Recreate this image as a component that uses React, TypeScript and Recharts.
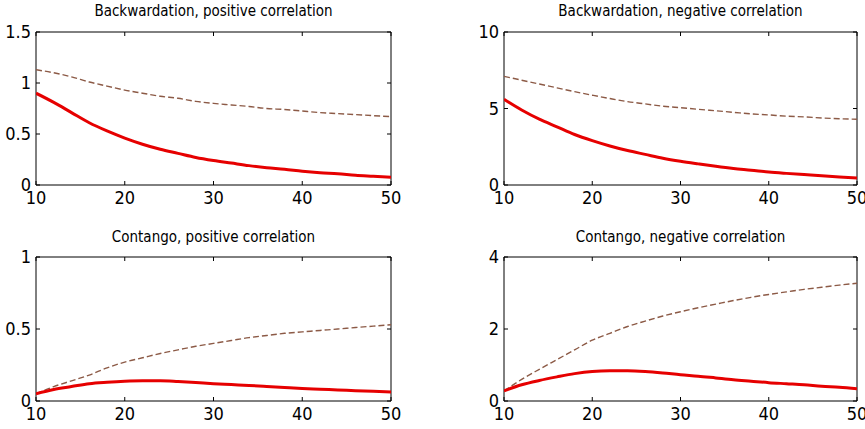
import React from 'react';
import { LineChart, Line, XAxis, YAxis, ReferenceArea } from 'recharts';

const maturity = [10, 12, 14, 16, 18, 20, 22, 24, 26, 28, 30, 32, 34, 36, 38, 40, 42, 44, 46, 48, 50];
const xTicks = [10, 20, 30, 40, 50];

const backPosSolid = [0.9, 0.81, 0.71, 0.61, 0.53, 0.46, 0.4, 0.35, 0.31, 0.27, 0.24, 0.215, 0.19, 0.17, 0.155, 0.135, 0.12, 0.11, 0.095, 0.085, 0.075];
const backPosDashed = [1.13, 1.1, 1.06, 1.01, 0.97, 0.93, 0.9, 0.87, 0.85, 0.82, 0.8, 0.785, 0.77, 0.75, 0.74, 0.725, 0.71, 0.7, 0.69, 0.68, 0.67];

const backNegSolid = [5.6, 4.9, 4.3, 3.8, 3.3, 2.9, 2.55, 2.25, 2.0, 1.75, 1.55, 1.38, 1.22, 1.08, 0.97, 0.85, 0.76, 0.68, 0.6, 0.53, 0.46];
const backNegDashed = [7.1, 6.85, 6.6, 6.35, 6.1, 5.87, 5.65, 5.45, 5.3, 5.15, 5.05, 4.95, 4.85, 4.75, 4.65, 4.58, 4.5, 4.45, 4.38, 4.33, 4.3];

const contPosSolid = [0.05, 0.08, 0.1, 0.12, 0.13, 0.137, 0.14, 0.14, 0.135, 0.128, 0.12, 0.114, 0.108, 0.101, 0.094, 0.087, 0.082, 0.077, 0.072, 0.067, 0.063];
const contPosDashed = [0.05, 0.1, 0.14, 0.18, 0.23, 0.27, 0.3, 0.33, 0.355, 0.38, 0.4, 0.42, 0.44, 0.455, 0.47, 0.48, 0.49, 0.5, 0.51, 0.52, 0.53];

const contNegSolid = [0.28, 0.45, 0.57, 0.67, 0.76, 0.82, 0.84, 0.84, 0.82, 0.78, 0.73, 0.69, 0.64, 0.59, 0.55, 0.51, 0.48, 0.45, 0.41, 0.38, 0.34];
const contNegDashed = [0.28, 0.6, 0.88, 1.15, 1.42, 1.69, 1.88, 2.07, 2.22, 2.36, 2.48, 2.59, 2.69, 2.79, 2.88, 2.96, 3.03, 3.1, 3.16, 3.22, 3.27];

const FONT = '"Liberation Sans Narrow", "DejaVu Sans Condensed", "Liberation Sans", sans-serif';
const TICK_LEN = 4;
const LABEL_GAP = 5;

type PanelProps = {
  title: string;
  solid: number[];
  dashed: number[];
  yMax: number;
  yTicks: number[];
  left: number;
  top: number;
  width: number;
  height: number;
  margin: { top: number; right: number; bottom: number; left: number };
  titleY: number;
};

const Panel = ({ title, solid, dashed, yMax, yTicks, left, top, width, height, margin, titleY }: PanelProps) => {
  const rows = maturity.map((m, i) => ({ m, solid: solid[i], dashed: dashed[i] }));
  const plotW = width - margin.left - margin.right;
  const plotH = height - margin.top - margin.bottom;

  const XTick = (props: any) => {
    const { x, y, payload } = props;
    const axisY = y - LABEL_GAP;
    return (
      <g>
        <line x1={x} y1={axisY} x2={x} y2={axisY - TICK_LEN} stroke="#000" />
        <line x1={x} y1={axisY - plotH} x2={x} y2={axisY - plotH + TICK_LEN} stroke="#000" />
        <text x={x} y={axisY + 6} dy="0.71em" textAnchor="middle" fill="#000" fontSize={18} fontFamily={FONT}>
          {payload.value}
        </text>
      </g>
    );
  };

  const YTick = (props: any) => {
    const { x, y, payload } = props;
    const axisX = x + LABEL_GAP;
    return (
      <g>
        <line x1={axisX} y1={y} x2={axisX + TICK_LEN} y2={y} stroke="#000" />
        <line x1={axisX + plotW} y1={y} x2={axisX + plotW - TICK_LEN} y2={y} stroke="#000" />
        <text x={axisX - 5} y={y} dy="0.36em" textAnchor="end" fill="#000" fontSize={18} fontFamily={FONT}>
          {payload.value}
        </text>
      </g>
    );
  };

  return (
    <div style={{ position: 'absolute', left, top, width, height }}>
      <div
        style={{
          position: 'absolute',
          left: margin.left,
          width: plotW,
          top: titleY,
          textAlign: 'center',
          fontFamily: FONT,
          fontSize: 15,
          color: '#000',
          whiteSpace: 'nowrap',
          lineHeight: '16px',
        }}
      >
        {title}
      </div>
      <LineChart width={width} height={height} data={rows} margin={{ top: margin.top, right: margin.right, bottom: 0, left: 0 }}>
        <XAxis
          dataKey="m"
          type="number"
          domain={[10, 50]}
          ticks={xTicks}
          height={margin.bottom}
          axisLine={false}
          tickLine={false}
          tickSize={0}
          tickMargin={LABEL_GAP}
          tick={<XTick />}
          interval={0}
          allowDataOverflow
        />
        <YAxis
          type="number"
          domain={[0, yMax]}
          ticks={yTicks}
          width={margin.left}
          axisLine={false}
          tickLine={false}
          tickSize={0}
          tickMargin={LABEL_GAP}
          tick={<YTick />}
          interval={0}
          allowDataOverflow
        />
        <ReferenceArea x1={10} x2={50} y1={0} y2={yMax} fill="none" stroke="#000" strokeWidth={1} ifOverflow="visible" />
        <Line
          type="monotone"
          dataKey="dashed"
          stroke="#8c5a46"
          strokeWidth={1.4}
          strokeDasharray="6 3"
          dot={false}
          isAnimationActive={false}
        />
        <Line type="monotone" dataKey="solid" stroke="#e60000" strokeWidth={3} dot={false} isAnimationActive={false} />
      </LineChart>
    </div>
  );
};

export default function App() {
  return (
    <div style={{ position: 'absolute', left: 0, top: 0, width: 865, height: 429, background: '#fff', overflow: 'hidden' }}>
      <Panel
        title="Backwardation, positive correlation"
        solid={backPosSolid}
        dashed={backPosDashed}
        yMax={1.5}
        yTicks={[0, 0.5, 1, 1.5]}
        left={0}
        top={0}
        width={432}
        height={215}
        margin={{ top: 32, right: 41, bottom: 30, left: 36 }}
        titleY={3}
      />
      <Panel
        title="Backwardation, negative correlation"
        solid={backNegSolid}
        dashed={backNegDashed}
        yMax={10}
        yTicks={[0, 5, 10]}
        left={432}
        top={0}
        width={433}
        height={215}
        margin={{ top: 32, right: 8, bottom: 30, left: 72 }}
        titleY={3}
      />
      <Panel
        title="Contango, positive correlation"
        solid={contPosSolid}
        dashed={contPosDashed}
        yMax={1}
        yTicks={[0, 0.5, 1]}
        left={0}
        top={215}
        width={432}
        height={214}
        margin={{ top: 42, right: 41, bottom: 28, left: 36 }}
        titleY={14}
      />
      <Panel
        title="Contango, negative correlation"
        solid={contNegSolid}
        dashed={contNegDashed}
        yMax={4}
        yTicks={[0, 2, 4]}
        left={432}
        top={215}
        width={433}
        height={214}
        margin={{ top: 42, right: 8, bottom: 28, left: 72 }}
        titleY={14}
      />
    </div>
  );
}
